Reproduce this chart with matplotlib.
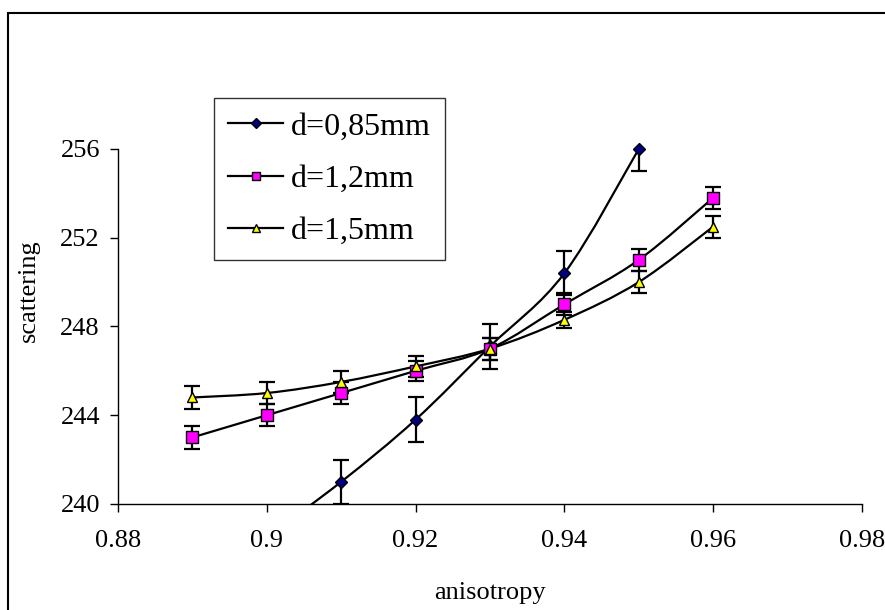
import numpy as np
import matplotlib
matplotlib.use("Agg")
import matplotlib.pyplot as plt
from matplotlib.path import Path
from matplotlib.patches import PathPatch, Rectangle

plt.rcParams['font.family'] = ['Liberation Serif', 'DejaVu Serif']

# data
x_085 = [0.90, 0.91, 0.92, 0.93, 0.94, 0.95]
y_085 = [238.5, 241.0, 243.8, 247.1, 250.4, 256.0]
e_085 = [1.0, 1.0, 1.0, 1.0, 1.0, 1.0]

x_12 = [0.89, 0.90, 0.91, 0.92, 0.93, 0.94, 0.95, 0.96]
y_12 = [243.0, 244.0, 245.0, 246.0, 247.0, 249.0, 251.0, 253.8]
e_12 = [0.5, 0.5, 0.5, 0.45, 0.5, 0.5, 0.5, 0.5]

x_15 = [0.89, 0.90, 0.91, 0.92, 0.93, 0.94, 0.95, 0.96]
y_15 = [244.8, 245.0, 245.5, 246.2, 247.0, 248.3, 250.0, 252.5]
e_15 = [0.5, 0.5, 0.5, 0.47, 0.5, 0.35, 0.5, 0.5]

labels = ['d=0,85mm', 'd=1,2mm', 'd=1,5mm']
xticks = [0.88, 0.90, 0.92, 0.94, 0.96, 0.98]
xticklabels = ['0.88', '0.9', '0.92', '0.94', '0.96', '0.98']
yticks = [240, 244, 248, 252, 256]


def smooth_path(x, y):
    # Excel style smoothed line: bezier segments through the points
    p = np.column_stack([x, y])
    verts = [p[0]]
    codes = [Path.MOVETO]
    n = len(p)
    for i in range(n - 1):
        p0 = p[i - 1] if i > 0 else p[i]
        p3 = p[i + 2] if i + 2 < n else p[i + 1]
        c1 = p[i] + (p[i + 1] - p0) / 6.0
        c2 = p[i + 1] - (p3 - p[i]) / 6.0
        verts += [c1, c2, p[i + 1]]
        codes += [Path.CURVE4] * 3
    return Path(verts, codes)


fig = plt.figure(figsize=(8.85, 6.1), dpi=100)
ax = fig.add_axes([0.1333, 0.1738, 0.8407, 0.582])

series = [
    (x_085, y_085, e_085, 'D', '#000080', 6),
    (x_12, y_12, e_12, 's', '#FF00FF', 8),
    (x_15, y_15, e_15, '^', '#FFFF00', 7),
]

ymin, ymax = 240, 256
handles = []
for (xs, ys, es, mk, col, ms), lab in zip(series, labels):
    ax.add_patch(PathPatch(smooth_path(xs, ys), fill=False, edgecolor='black',
                           lw=1.6, zorder=2))
    ax.errorbar(xs, ys, yerr=es, fmt='none', ecolor='black', elinewidth=1.6,
                capsize=6, capthick=1.6, zorder=3)
    ys_vis = np.where(np.array(ys) >= ymin, ys, np.nan)
    ax.plot(xs, ys_vis, linestyle='none', marker=mk, ms=ms, mfc=col,
            mec='black', mew=1.0, clip_on=False, zorder=4)
    h, = ax.plot([], [], color='black', lw=1.6, marker=mk, ms=ms * 0.8,
                 mfc=col, mec='black', mew=1.0)
    handles.append(h)

ax.set_xlim(0.88, 0.98)
ax.set_ylim(ymin, ymax)
ax.set_xticks(xticks)
ax.set_xticklabels(xticklabels)
ax.set_yticks(yticks)

for s in ['top', 'right']:
    ax.spines[s].set_visible(False)
for s in ['left', 'bottom']:
    ax.spines[s].set_linewidth(1.0)
ax.tick_params(direction='out', length=6, width=1.0, labelsize=19, pad=7)
ax.tick_params(axis='x', pad=13)

ax.set_xlabel('anisotropy', fontsize=19)
ax.set_ylabel('scattering', fontsize=19)
ax.xaxis.set_label_coords(0.5, -0.22)
ax.yaxis.set_label_coords(-0.105, 0.60)

leg = fig.legend(handles, labels, loc='upper left',
                 bbox_to_anchor=(214 / 885, 1 - 98 / 610), fontsize=23,
                 frameon=True, fancybox=False, edgecolor='black',
                 handlelength=1.72, handletextpad=0.25, labelspacing=0.72,
                 borderpad=0.44, borderaxespad=0)
leg.get_frame().set_linewidth(1.0)

# chart area border
fig.add_artist(Rectangle((8 / 885, -0.1), 1.2, 1.1 - 13 / 610,
                         transform=fig.transFigure, fill=False,
                         edgecolor='black', lw=1.5))

fig.savefig('out.png', dpi=100)
